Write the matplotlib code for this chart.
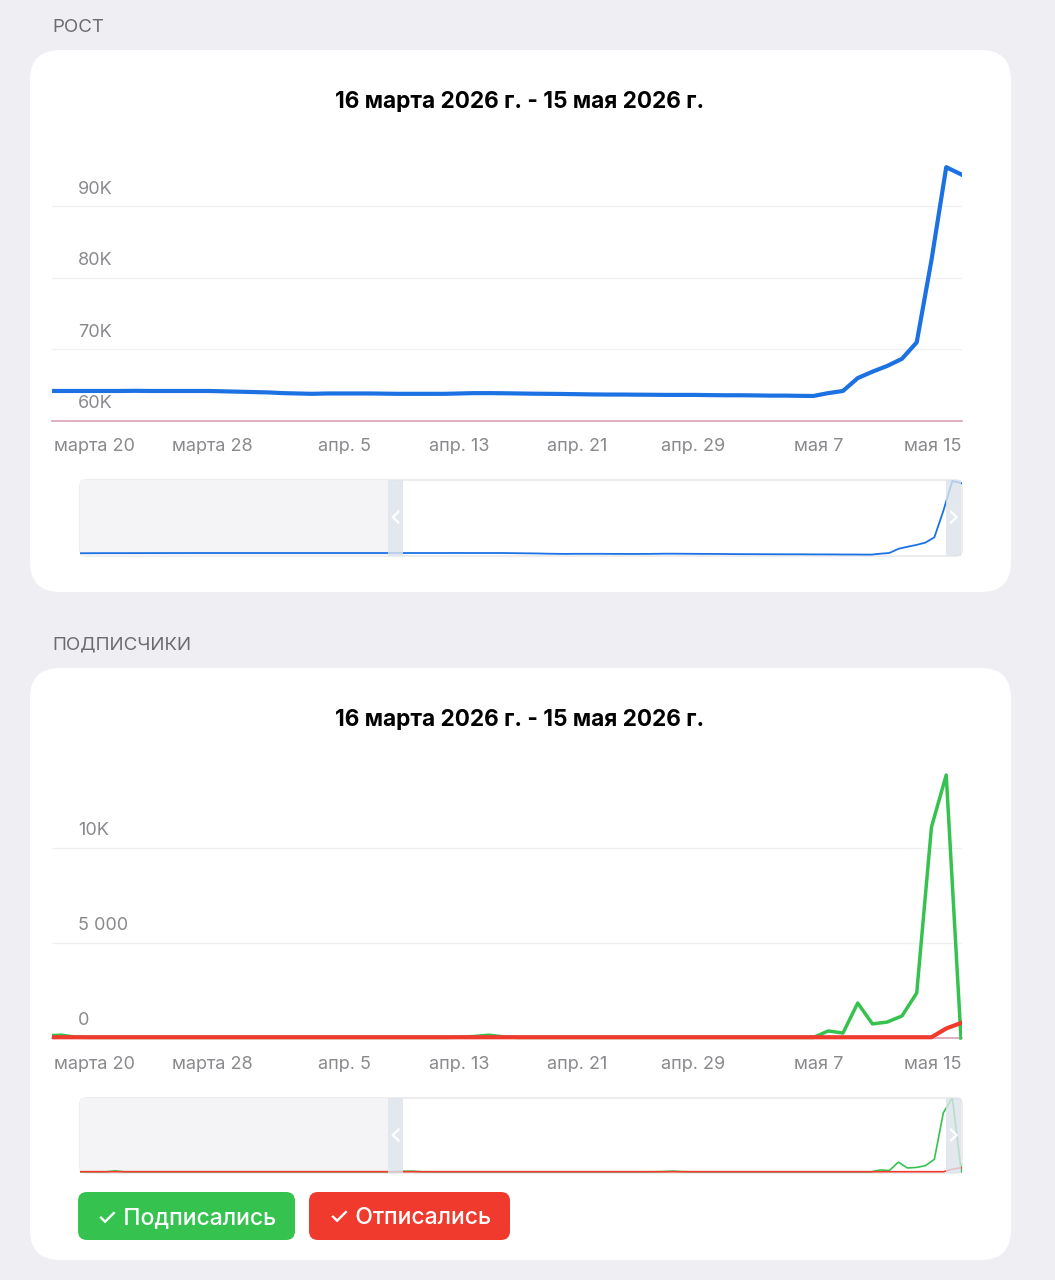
import matplotlib
matplotlib.use('Agg')
import matplotlib.pyplot as plt
from matplotlib.patches import FancyBboxPatch, Rectangle
import numpy as np

plt.rcParams['font.family'] = ['Inter', 'DejaVu Sans']

W, H = 1055, 1280

# дни от 16 марта 2026 (день 0), окно графика
days = np.arange(-2, 61)

# рост (всего подписчиков)
growth = [64200, 64200, 64200, 64200, 64200, 64200, 64220, 64200, 64200, 64200, 64200, 64200,
          64150, 64100, 64050, 64000, 63900, 63850, 63800, 63850, 63850, 63850,
          63850, 63820, 63800, 63800, 63800, 63800, 63850, 63900, 63900, 63880,
          63850, 63820, 63800, 63780, 63750, 63720, 63700, 63700, 63680, 63670,
          63650, 63650, 63650, 63620, 63600, 63600, 63580, 63550, 63550, 63520,
          63500, 63900, 64200, 66000, 66900, 67700, 68700, 71000, 82500, 95500, 94500]

# подписались / отписались
subscribed = [120, 150, 40, 30, 30, 30, 30, 30, 30, 30, 30, 30,
              30, 30, 30, 30, 30, 30, 30, 30, 30, 30,
              30, 30, 30, 30, 30, 30, 40, 80, 150, 60,
              30, 30, 30, 30, 30, 30, 30, 30, 30, 30,
              30, 30, 30, 30, 30, 30, 30, 30, 30, 30,
              30, 370, 260, 1840, 740, 840, 1160, 2370, 11100, 13840, 0]
unsubscribed = [40, 40, 40, 40, 40, 40, 40, 40, 40, 40, 40, 40,
                40, 40, 40, 40, 40, 40, 40, 40, 40, 40,
                40, 40, 40, 40, 40, 40, 40, 40, 40, 40,
                40, 40, 40, 40, 40, 40, 40, 40, 40, 40,
                40, 40, 40, 40, 40, 40, 40, 40, 40, 40,
                40, 40, 40, 40, 40, 40, 40, 40, 40, 500, 790]

# более ранняя история (видна только в навигаторе)
hist_days = [-38, -35, -34, -33, -25, -15, -3]
hist_growth = [64100, 64150, 64150, 64150, 64200, 64200, 64200]
hist_sub = [30, 30, 200, 30, 30, 30, 30]
hist_unsub = [40, 40, 40, 40, 40, 40, 40]

tick_days = [4, 12, 20, 28, 36, 44, 52, 60]
tick_labels = ['марта 20', 'марта 28', 'апр. 5', 'апр. 13', 'апр. 21', 'апр. 29', 'мая 7', 'мая 15']

title = '16 марта 2026 г. - 15 мая 2026 г.'

BG = '#eeeef3'
BLUE = '#1c72e3'
GREEN = '#36c24e'
RED = '#f03a2e'
GRAY = '#8a8a8e'
GRID = '#f0f0f2'

fig = plt.figure(figsize=(W / 100, H / 100), dpi=100, facecolor=BG)

# фоновая ось в пикселях
bg = fig.add_axes([0, 0, 1, 1], zorder=0)
bg.set_xlim(0, W)
bg.set_ylim(H, 0)
bg.axis('off')


def rbox(x, y, w, h, r, fc, ec='none', lw=0):
    p = FancyBboxPatch((x, y), w, h, boxstyle=f'round,pad=0,rounding_size={r}',
                       fc=fc, ec=ec, lw=lw)
    bg.add_patch(p)


# карточки
rbox(30, 50, 981, 542, 30, 'white')
rbox(30, 668, 981, 592, 30, 'white')
bg.text(52, 27, 'РОСТ', fontsize=13.5, color='#6c6c70', va='center')
bg.text(52, 645, 'ПОДПИСЧИКИ', fontsize=13.5, color='#6c6c70', va='center')
bg.text(520, 102, title, fontsize=16.3, fontweight='bold', ha='center', va='center', color='black')
bg.text(520, 720, title, fontsize=16.3, fontweight='bold', ha='center', va='center', color='black')

# рамки навигаторов
rbox(80, 480, 882, 76, 6, 'white', '#e6e6ea', 1)
rbox(80, 1098, 882, 75, 6, 'white', '#e6e6ea', 1)

# кнопки легенды
rbox(78, 1192, 217, 48, 9, GREEN)
rbox(309, 1192, 201, 48, 9, RED)
bg.text(187, 1218, '✓ Подписались', fontsize=16.5, fontweight='medium', color='white',
        ha='center', va='center')
bg.text(410, 1218, '✓ Отписались', fontsize=16.5, fontweight='medium', color='white',
        ha='center', va='center')

X0, X1 = -1.63, 60.07
SEL = -2.04  # начало выделения в навигаторе


def main_axes(top, bottom, ymin, ymax, grid, base, labels, pad):
    ax = fig.add_axes([52 / W, 1 - bottom / H, 910 / W, (bottom - top) / H], zorder=1)
    ax.set_facecolor('none')
    ax.set_xlim(X0, X1)
    ax.set_ylim(ymin, ymax)
    for s in ax.spines.values():
        s.set_visible(False)
    for v in grid:
        ax.axhline(v, color=GRID, lw=1, zorder=0)
    ax.axhline(base, color='#d9a2b4', lw=1.2, zorder=1, clip_on=False)
    for v, lbl in zip([base] + grid, labels):
        ax.annotate(lbl, xy=(26 / 910, v), xycoords=('axes fraction', 'data'),
                    xytext=(0, 12.5), textcoords='offset points',
                    fontsize=13, color=GRAY, va='center', ha='left')
    ax.set_yticks([])
    ax.set_xticks(tick_days)
    ax.set_xticklabels(tick_labels, ha='right')
    ax.tick_params(axis='x', length=0, pad=pad, labelsize=13, labelcolor=GRAY)
    return ax


def nav_axes(top, bottom, ymin, ymax):
    ax = fig.add_axes([80 / W, 1 - bottom / H, 882 / W, (bottom - top) / H], zorder=1)
    ax.set_facecolor('none')
    ax.set_xlim(-37.9, X1)
    ax.set_ylim(ymin, ymax)
    ax.axis('off')
    ax.axvspan(-37.9, SEL - 1.67, color='#f4f4f6', zorder=0, lw=0)
    tr = ax.get_xaxis_transform()
    for hx, glyph in [(SEL - 1.67, '‹'), (X1 - 1.78, '›')]:
        ax.add_patch(Rectangle((hx, 0), 1.7, 1, transform=tr, fc='#dce3ec', alpha=0.8,
                               lw=0, zorder=3))
        ax.text(hx + 0.85, 0.5, glyph, transform=tr, color='white', fontsize=24,
                ha='center', va='center', zorder=4, family='DejaVu Sans')
    return ax


# рост
ax1 = main_axes(150, 421, 60000, 97900, [70000, 80000, 90000], 60000,
                ['60K', '70K', '80K', '90K'], 12.5)
ax1.plot(days, growth, color=BLUE, lw=3, solid_joinstyle='round')

nav1 = nav_axes(480, 556, 62900, 95900)
nav1.plot(hist_days + list(days), hist_growth + growth, color=BLUE, lw=1.3, zorder=2)

# подписчики
ax2 = main_axes(760, 1040.85, -150, 14630, [5000, 10000], 0,
                ['0', '5 000', '10K'], 11.2)
ax2.plot(days, subscribed, color=GREEN, lw=2.5, solid_joinstyle='round')
ax2.plot(days, unsubscribed, color=RED, lw=3, solid_joinstyle='round')

nav2 = nav_axes(1098, 1173, -200, 13850)
nav2.plot(hist_days + list(days), hist_sub + subscribed, color=GREEN, lw=1.2, zorder=2)
nav2.plot(hist_days + list(days), hist_unsub + unsubscribed, color=RED, lw=1.2, zorder=2)

fig.savefig('out.png', dpi=100, facecolor=BG)
